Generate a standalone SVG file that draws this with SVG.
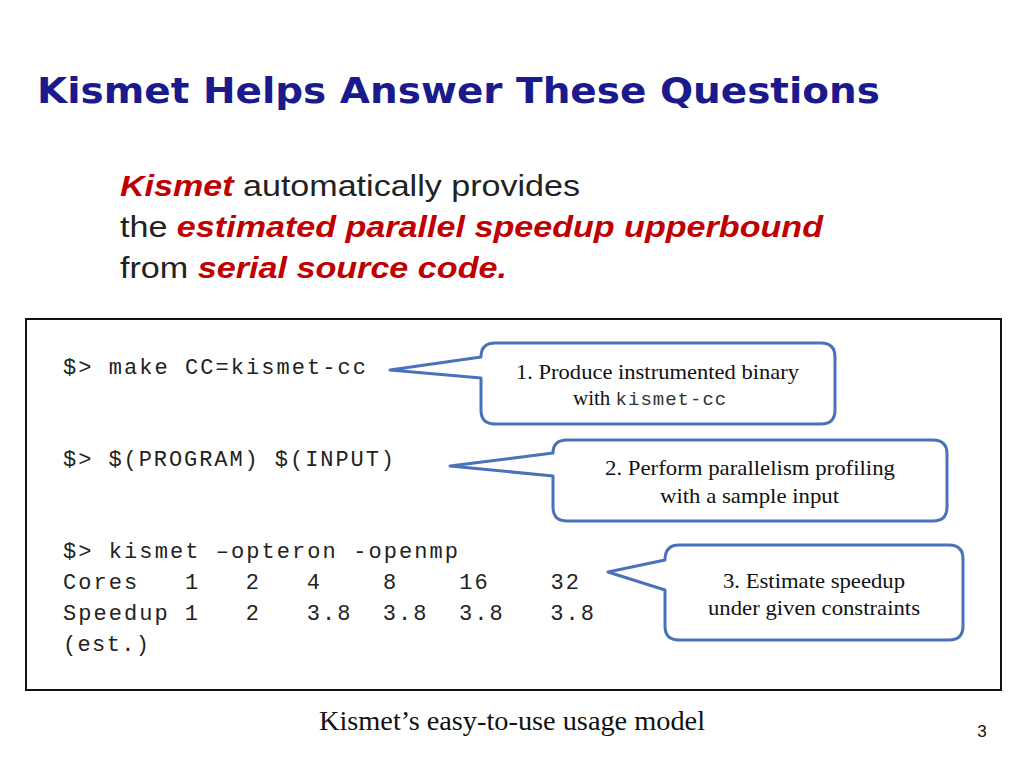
<svg xmlns="http://www.w3.org/2000/svg" width="1024" height="768" viewBox="0 0 1024 768">
<style>
.t{font-family:"Liberation Sans",Arial,sans-serif}
.m{font-family:"Liberation Mono","Courier New",monospace;font-size:22px;fill:#222;letter-spacing:2px}
.s{font-family:"Liberation Serif","Times New Roman",serif;font-size:21px;fill:#111}
.c{fill:#fff;stroke:#4a72b8;stroke-width:3;stroke-linejoin:round}
.r{fill:#c00000;font-weight:bold;font-style:italic}
</style>
<rect width="1024" height="768" fill="#fff"/>
<text x="37" y="103" font-family="DejaVu Sans,Verdana,sans-serif" font-size="35" font-weight="bold" fill="#1a1a8c" textLength="843" lengthAdjust="spacingAndGlyphs">Kismet Helps Answer These Questions</text>
<text class="t" x="120" y="196" font-size="29" fill="#222" textLength="460" lengthAdjust="spacingAndGlyphs"><tspan class="r">Kismet</tspan> automatically provides</text>
<text class="t" x="120" y="237" font-size="29" fill="#222" textLength="703" lengthAdjust="spacingAndGlyphs">the <tspan class="r">estimated parallel speedup upperbound</tspan></text>
<text class="t" x="120" y="278" font-size="29" fill="#222" textLength="387" lengthAdjust="spacingAndGlyphs">from <tspan class="r">serial source code.</tspan></text>
<rect x="26" y="319" width="975" height="371" fill="none" stroke="#111" stroke-width="2"/>
<g id="code">
<text class="m" x="63" y="374" xml:space="preserve" textLength="305">$&gt; make CC=kismet-cc</text>
<text class="m" x="63" y="466" xml:space="preserve" textLength="333">$&gt; $(PROGRAM) $(INPUT)</text>
<text class="m" x="63" y="558" xml:space="preserve" textLength="397">$&gt; kismet –opteron -openmp</text>
<text class="m" x="63" y="589" xml:space="preserve" textLength="518">Cores   1   2   4    8    16    32</text>
<text class="m" x="63" y="620" xml:space="preserve" textLength="533">Speedup 1   2   3.8  3.8  3.8   3.8</text>
<text class="m" x="63" y="651" textLength="88">(est.)</text>
</g>
<g id="c1">
<path class="c" d="M495,343 H821 Q835,343 835,357 V410 Q835,424 821,424 H495 Q481,424 481,410 V378 L390,370 L481,357 Q481,343 495,343 Z"/>
<text class="s" x="516" y="379" textLength="283" lengthAdjust="spacingAndGlyphs">1. Produce instrumented binary</text>
<text class="s" x="573" y="405">with <tspan font-family="Liberation Mono,monospace" font-size="19" fill="#333" letter-spacing="1">kismet-cc</tspan></text>
</g>
<g id="c2">
<path class="c" d="M567,440 H933 Q947,440 947,454 V507 Q947,521 933,521 H567 Q553,521 553,507 V476 L450,466 L553,453 Q553,440 567,440 Z"/>
<text class="s" x="605" y="475" textLength="290" lengthAdjust="spacingAndGlyphs">2. Perform parallelism profiling</text>
<text class="s" x="660" y="503" textLength="179" lengthAdjust="spacingAndGlyphs">with a sample input</text>
</g>
<g id="c3">
<path class="c" d="M679,545 H949 Q963,545 963,559 V626 Q963,640 949,640 H679 Q665,640 665,626 V590 L608,572 L665,560 Q665,545 679,545 Z"/>
<text class="s" x="723" y="588" textLength="182" lengthAdjust="spacingAndGlyphs">3. Estimate speedup</text>
<text class="s" x="708" y="615" textLength="212" lengthAdjust="spacingAndGlyphs">under given constraints</text>
</g>
<g id="connectors"/>
<text x="319" y="730" font-family="Liberation Serif,serif" font-size="27" fill="#111" textLength="386" lengthAdjust="spacingAndGlyphs">Kismet’s easy-to-use usage model</text>
<text class="t" x="982" y="737" text-anchor="middle" font-size="17" fill="#111">3</text>
</svg>
